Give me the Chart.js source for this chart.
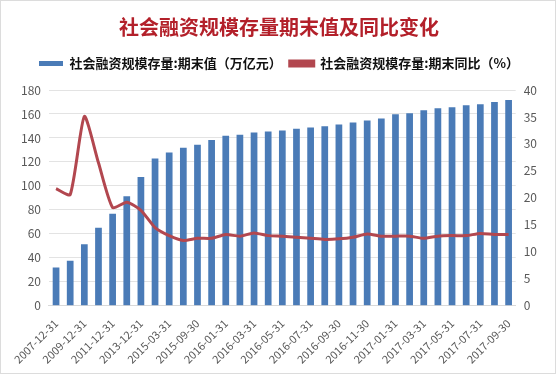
<!DOCTYPE html>
<html>
<head>
<meta charset="utf-8">
<script src="https://cdn.jsdelivr.net/npm/chart.js@4/dist/chart.umd.min.js"></script>
<style>
  html, body { margin: 0; padding: 0; background: #fff; }
  .box { width: 554px; height: 372px; border: 1px solid #dcdcdc; position: relative; }
</style>
</head>
<body>
<div class="box"><canvas id="stockChart" width="554" height="372"></canvas></div>
<script>
// --- données ---
const dates = [
  '2007-12-31', '2008-12-31', '2009-12-31', '2010-12-31', '2011-12-31', '2012-12-31',
  '2013-12-31', '2014-12-31', '2015-03-31', '2015-06-30', '2015-09-30', '2015-12-31',
  '2016-01-31', '2016-02-29', '2016-03-31', '2016-04-30', '2016-05-31', '2016-06-30',
  '2016-07-31', '2016-08-31', '2016-09-30', '2016-10-31', '2016-11-30', '2016-12-31',
  '2017-01-31', '2017-02-28', '2017-03-31', '2017-04-30', '2017-05-31', '2017-06-30',
  '2017-07-31', '2017-08-31', '2017-09-30'
];
const stockValues = [
  32.0, 37.5, 51.2, 65.0, 76.8, 91.4, 107.5, 122.9, 127.8, 131.8, 134.3, 138.3,
  141.9, 142.7, 144.5, 145.3, 146.2, 147.6, 148.7, 149.8, 151.2, 152.9, 154.6, 156.3,
  159.7, 160.5, 163.1, 164.8, 165.6, 167.3, 168.2, 169.9, 171.6
];
const yoyValues = [
  21.7, 20.6, 35.1, 26.5, 18.2, 19.2, 17.7, 14.5, 13.0, 12.1, 12.5, 12.5,
  13.2, 12.9, 13.5, 13.0, 12.9, 12.7, 12.5, 12.3, 12.4, 12.7, 13.3, 12.9,
  12.9, 12.9, 12.5, 12.9, 13.0, 13.0, 13.4, 13.2, 13.2
];
const leftTicks = { min: 0, max: 180, step: 20 };
const rightTicks = { min: 0, max: 40, step: 5 };

const cjk = '"Noto Sans CJK SC", "Microsoft YaHei", sans-serif';
Chart.defaults.font.family = cjk;
Chart.defaults.color = '#595959';

// un peu d'espace sous la légende, comme sur la maquette
const legendGap = {
  id: 'legendGap',
  beforeInit(chart) {
    const fit = chart.legend.fit;
    chart.legend.fit = function () {
      fit.bind(chart.legend)();
      this.height += 10;
    };
  }
};

const ctx = document.getElementById('stockChart').getContext('2d');
new Chart(ctx, {
  data: {
    labels: dates,
    datasets: [
      {
        type: 'line',
        label: '社会融资规模存量:期末同比（%）',
        data: yoyValues,
        yAxisID: 'y1',
        borderColor: '#b2474f',
        backgroundColor: '#b2474f',
        borderWidth: 3,
        pointRadius: 0,
        tension: 0.2,
        order: 0
      },
      {
        type: 'bar',
        label: '社会融资规模存量:期末值（万亿元）',
        data: stockValues,
        yAxisID: 'y',
        backgroundColor: '#4a7bb7',
        barPercentage: 0.5,
        categoryPercentage: 0.95,
        order: 1
      }
    ]
  },
  options: {
    responsive: false,
    animation: false,
    layout: { padding: { left: 12, right: 10, top: 6, bottom: 4 } },
    plugins: {
      title: {
        display: true,
        text: '社会融资规模存量期末值及同比变化',
        color: '#b3202a',
        font: { size: 20, weight: 'bold', family: cjk },
        padding: { top: 8, bottom: 10 }
      },
      legend: {
        reverse: true,
        labels: {
          boxWidth: 24,
          boxHeight: 5,
          color: '#111',
          font: { size: 13, weight: 'bold', family: cjk },
          padding: 8
        }
      },
      tooltip: { enabled: false }
    },
    scales: {
      x: {
        grid: { display: false },
        border: { color: '#d9d9d9' },
        ticks: {
          autoSkip: false,
          maxRotation: 45,
          minRotation: 45,
          font: { size: 11 },
          callback: function (val, i) { return i % 2 === 0 ? this.getLabelForValue(val) : ''; }
        }
      },
      y: {
        position: 'left',
        min: leftTicks.min,
        max: leftTicks.max,
        ticks: { stepSize: leftTicks.step, font: { size: 12 }, padding: 8 },
        grid: { color: '#e3e3e3', drawTicks: false },
        border: { display: false }
      },
      y1: {
        position: 'right',
        min: rightTicks.min,
        max: rightTicks.max,
        ticks: { stepSize: rightTicks.step, font: { size: 12 }, padding: 8 },
        grid: { display: false, drawTicks: false },
        border: { display: false }
      }
    }
  },
  plugins: [legendGap]
});
</script>
</body>
</html>
